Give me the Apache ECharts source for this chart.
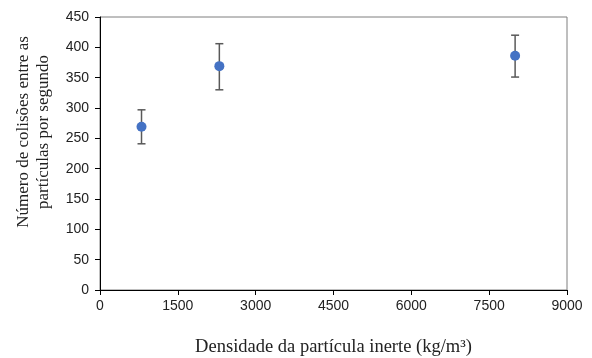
<!DOCTYPE html>
<html><head><meta charset="utf-8">
<script src="https://cdn.jsdelivr.net/npm/echarts@6/dist/echarts.min.js"></script>
<style>html,body{margin:0;padding:0;background:#fff}#c{width:592px;height:358px}</style>
</head><body><div id="c"></div>
<script>
const densities = [800, 2300, 8000];
const collisions = [269, 369, 386];
const errLow = [241, 330, 351];
const errHigh = [297, 406, 420];
const xTitle = 'Densidade da partícula inerte (kg/m³)';
const yTitle = 'Número de colisões entre as\npartículas por segundo';

const chart = echarts.init(document.getElementById('c'), null, {renderer: 'canvas'});
const errData = densities.map((d, i) => [d, errLow[i], errHigh[i]]);
chart.setOption({
  animation: false,
  grid: {left: 100, right: 25, top: 17, bottom: 68, show: true, borderColor: '#7f7f7f', borderWidth: 1,
         containLabel: false, outerBoundsMode: 'none'},
  graphic: [{
    type: 'text',
    x: 34, y: 132,
    rotation: Math.PI / 2,
    style: {
      text: yTitle, fontFamily: 'Liberation Serif', fontSize: 17, lineHeight: 20,
      fill: '#222', align: 'center', verticalAlign: 'middle'
    }
  }],
  xAxis: {
    type: 'value', min: 0, max: 9000, interval: 1500,
    name: xTitle, nameLocation: 'middle', nameGap: 48,
    nameTextStyle: {fontFamily: 'Liberation Serif', fontSize: 18.5, color: '#222'},
    axisLine: {show: true, onZero: false, lineStyle: {color: '#000', width: 1}},
    axisTick: {show: true, length: 5, lineStyle: {color: '#000'}},
    axisLabel: {fontFamily: 'Liberation Sans', fontSize: 14, color: '#222', margin: 9, formatter: v => String(v)},
    splitLine: {show: false}
  },
  yAxis: {
    type: 'value', min: 0, max: 450, interval: 50,
    axisLine: {show: true, lineStyle: {color: '#000', width: 1}},
    axisTick: {show: true, length: 5, lineStyle: {color: '#000'}},
    axisLabel: {fontFamily: 'Liberation Sans', fontSize: 14, color: '#222', margin: 11, formatter: v => String(v)},
    splitLine: {show: false}
  },
  series: [
    {
      type: 'custom',
      data: errData,
      z: 1,
      renderItem: function (params, api) {
        const x = api.value(0);
        const lo = api.coord([x, api.value(1)]);
        const hi = api.coord([x, api.value(2)]);
        const hw = 4;
        const style = {stroke: '#595959', lineWidth: 1.5};
        return {
          type: 'group',
          children: [
            {type: 'line', shape: {x1: hi[0], y1: hi[1], x2: lo[0], y2: lo[1]}, style: style},
            {type: 'line', shape: {x1: hi[0] - hw, y1: hi[1], x2: hi[0] + hw, y2: hi[1]}, style: style},
            {type: 'line', shape: {x1: lo[0] - hw, y1: lo[1], x2: lo[0] + hw, y2: lo[1]}, style: style}
          ]
        };
      }
    },
    {
      type: 'scatter',
      z: 2,
      data: densities.map((d, i) => [d, collisions[i]]),
      symbol: 'circle', symbolSize: 10,
      itemStyle: {color: '#4472C4', opacity: 1}
    }
  ]
});
</script></body></html>
